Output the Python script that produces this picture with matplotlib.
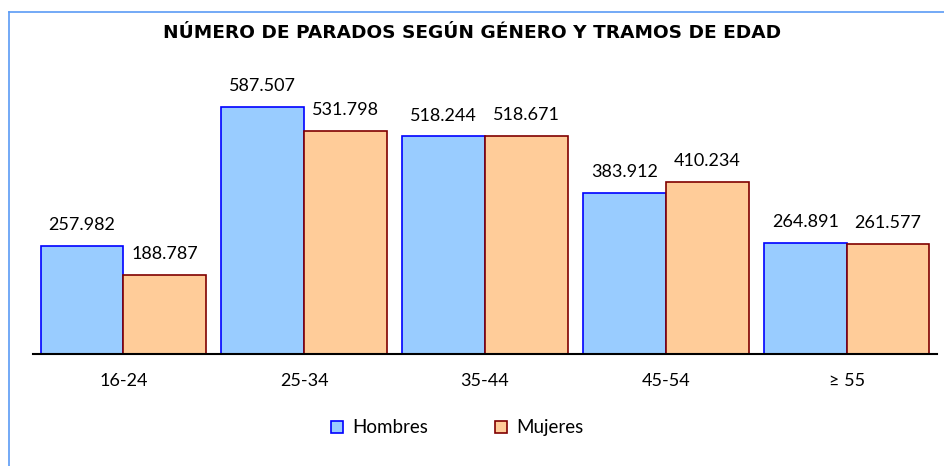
import numpy as np
import matplotlib.pyplot as plt
from matplotlib.lines import Line2D

plt.rcParams['font.family'] = ['Lato', 'DejaVu Sans']

# data
grupos = ["16-24", "25-34", "35-44", "45-54", "\u2265 55"]
hombres = [257982, 587507, 518244, 383912, 264891]
mujeres = [188787, 531798, 518671, 410234, 261577]


def fmt(v):
    return f"{v:,}".replace(",", ".")


fig = plt.figure(figsize=(9.45, 4.66), dpi=100)
ax = fig.add_axes([0.0349, 0.2403, 0.9566, 0.6309])

x = np.arange(len(grupos))
w = 0.458
b1 = ax.bar(x - w / 2, hombres, w, color="#99CCFF", edgecolor="#0000FF", linewidth=1.2, label="Hombres")
b2 = ax.bar(x + w / 2, mujeres, w, color="#FFCC99", edgecolor="#800000", linewidth=1.2, label="Mujeres")

for bars, vals in [(b1, hombres), (b2, mujeres)]:
    for r, v in zip(bars, vals):
        ax.annotate(fmt(v), (r.get_x() + r.get_width() / 2, v), xytext=(0, 15),
                    textcoords="offset points", ha="center", va="center", fontsize=13)

ax.set_xlim(-0.5, 4.5)
ax.set_ylim(0, 700000)
ax.set_xticks(x)
ax.set_xticklabels(grupos, fontsize=13)
ax.tick_params(axis="x", length=0, pad=14)
ax.set_yticks([])
for s in ["top", "right", "left"]:
    ax.spines[s].set_visible(False)
ax.spines["bottom"].set_linewidth(1.5)

fig.text(0.5, 0.929, "NÚMERO DE PARADOS SEGÚN GÉNERO Y TRAMOS DE EDAD",
         ha="center", va="center", fontsize=13.3, fontweight="bold", family="DejaVu Sans")

fig.legend(handles=[b1, b2], loc="center", bbox_to_anchor=(0.484, 0.082), ncol=2,
           frameon=False, fontsize=13.5, handlelength=0.6, handleheight=0.6,
           columnspacing=3.6, handletextpad=0.5)

# outer frame
fig.add_artist(Line2D([9 / 945, 1], [1 - 12 / 466, 1 - 12 / 466], color="#5B9BF5", lw=1.2))
fig.add_artist(Line2D([9 / 945, 9 / 945], [0, 1 - 12 / 466], color="#5B9BF5", lw=1.2))

fig.savefig("out.png", dpi=100)
